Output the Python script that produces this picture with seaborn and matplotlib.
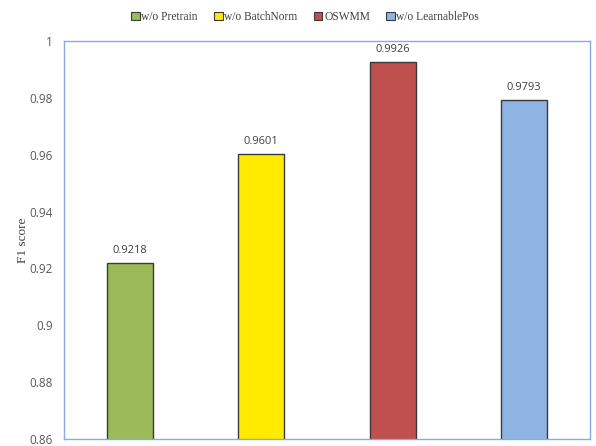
import matplotlib
matplotlib.use("Agg")
import matplotlib.pyplot as plt
import seaborn as sns
import pandas as pd
from matplotlib.patches import Patch

categories = ["w/o Pretrain", "w/o BatchNorm", "OSWMM", "w/o LearnablePos"]
values = [0.9218, 0.9601, 0.9926, 0.9793]
colors = ["#9BBB59", "#FFEB00", "#C0504D", "#8DB4E2"]
yticks = [0.86, 0.88, 0.9, 0.92, 0.94, 0.96, 0.98, 1]
ytick_labels = ["0.86", "0.88", "0.9", "0.92", "0.94", "0.96", "0.98", "1"]

df = pd.DataFrame({"cat": categories, "val": values})

sns.set_theme(style="white")
plt.rcParams['font.family'] = ['Open Sans', 'DejaVu Sans']

fig = plt.figure(figsize=(5.96, 4.46), dpi=100)
ax = fig.add_axes([64/596, 1 - 439/446, (590-64)/596, (439-41)/446])

sns.barplot(data=df, x="cat", y="val", hue="cat", palette=colors, dodge=False,
            saturation=1, width=0.35, edgecolor="#3a3a3a", linewidth=1.0,
            legend=False, ax=ax)

ax.set_ylim(0.86, 1.0)
ax.set_yticks(yticks)
ax.set_yticklabels(ytick_labels, fontsize=8.5, color="#595959")
ax.set_xticks([])
ax.set_xlabel("")
ax.set_ylabel("F1 score", fontsize=9.5, family="Liberation Serif", color="#404040")
ax.yaxis.set_label_coords(-0.066, 0.5)
ax.tick_params(axis="y", length=0, pad=8)

for s in ax.spines.values():
    s.set_color("#8EA9DB")
    s.set_linewidth(1.0)

for p, v in zip(ax.patches, values):
    ax.annotate(f"{v:.4f}", (p.get_x() + p.get_width()/2, v), xytext=(0, 5),
                textcoords="offset points", ha="center", va="bottom",
                fontsize=8, color="#404040")

handles = [Patch(facecolor=c, edgecolor="#3a3a3a", linewidth=0.8) for c in colors]
fig.legend(handles, categories, loc="center", bbox_to_anchor=(305/596, 1 - 17/446), ncol=4,
           frameon=False, prop={"family": "Liberation Serif", "size": 8.3},
           handlelength=0.75, handleheight=0.75, handletextpad=0.15, columnspacing=1.4,
           labelcolor="#404040")

fig.savefig("out.png", dpi=100)
